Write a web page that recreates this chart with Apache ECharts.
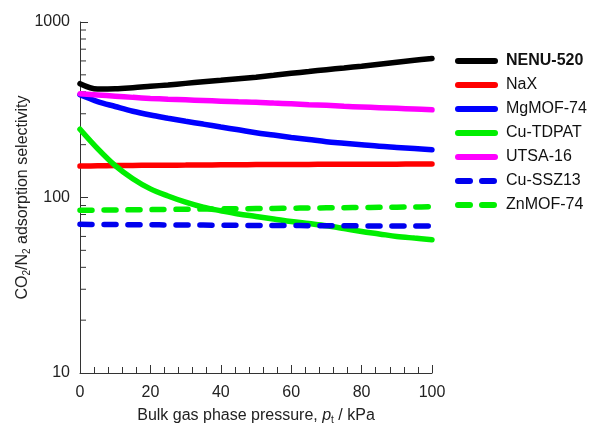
<!DOCTYPE html>
<html>
<head>
<meta charset="utf-8">
<script src="https://cdn.jsdelivr.net/npm/echarts@6/dist/echarts.min.js"></script>
<style>html,body{margin:0;padding:0;background:#fff}#c{width:598px;height:426px}</style>
</head>
<body>
<div id="c"></div>
<script>
const pressure = [0, 5, 10, 15, 20, 25, 30, 35, 40, 45, 50, 55, 60, 65, 70, 75, 80, 85, 90, 95, 100];
const nenu520 = [445, 415, 416, 422, 430, 438, 447, 456, 465, 475, 485, 497, 510, 522, 535, 547, 560, 575, 590, 605, 620];
const nax = [151, 151.5, 152, 152.3, 152.6, 152.8, 153, 153.3, 153.5, 153.7, 154, 154.1, 154.3, 154.4, 154.5, 154.6, 154.7, 154.8, 154.9, 155, 155];
const mgmof74 = [385, 352, 330, 310, 295, 283, 272, 262, 252, 243, 234, 227, 220, 214, 208, 204, 200, 196, 193, 190, 187];
const cutdpat = [245, 190, 152, 128, 112, 102, 94, 88, 84, 80.5, 78, 75.5, 73, 71, 69, 66.5, 64, 62, 60, 58.7, 57.5];
const utsa16 = [390, 384, 378, 372, 367, 363, 360, 357, 354, 351, 349, 345, 342, 338, 335, 331, 328, 325, 322, 319, 316];
const cussz13 = [70.3, 70.2, 70.1, 70, 69.9, 69.8, 69.7, 69.6, 69.5, 69.4, 69.3, 69.25, 69.2, 69.1, 69, 68.95, 68.9, 68.85, 68.8, 68.75, 68.7];
const znmof74 = [84.5, 84.7, 84.9, 85.1, 85.3, 85.5, 85.7, 85.9, 86.1, 86.3, 86.5, 86.7, 86.9, 87.1, 87.3, 87.5, 87.7, 87.9, 88.1, 88.3, 88.5];
const xTicks = [0, 20, 40, 60, 80, 100];
const yMinorTicks = [20, 30, 40, 50, 60, 70, 80, 90, 200, 300, 400, 500, 600, 700, 800, 900];

const seriesDefs = [
  {name: 'NENU-520', data: nenu520, color: '#000000', dashed: false},
  {name: 'NaX', data: nax, color: '#ff0000', dashed: false},
  {name: 'MgMOF-74', data: mgmof74, color: '#0000ff', dashed: false},
  {name: 'Cu-TDPAT', data: cutdpat, color: '#00ee00', dashed: false},
  {name: 'UTSA-16', data: utsa16, color: '#ff00ff', dashed: false},
  {name: 'Cu-SSZ13', data: cussz13, color: '#0000ee', dashed: true},
  {name: 'ZnMOF-74', data: znmof74, color: '#00ee00', dashed: true}
];

const font = '"Liberation Sans", Arial, sans-serif';
const chart = echarts.init(document.getElementById('c'));

const series = seriesDefs.map(s => ({
  name: s.name,
  type: 'line',
  data: pressure.map((p, i) => [p, s.data[i]]),
  smooth: 0.35,
  showSymbol: false,
  symbol: 'none',
  color: s.color,
  lineStyle: {
    color: s.color,
    width: 5.5,
    type: s.dashed ? [12, 12] : 'solid',
    cap: 'round'
  },
  emphasis: {disabled: true},
  animation: false
}));

series.push({
  name: 'yminor',
  type: 'custom',
  silent: true,
  animation: false,
  data: yMinorTicks.map(v => [0, v]),
  encode: {x: 0, y: 1},
  renderItem: function (params, api) {
    const pt = api.coord([0, api.value(1)]);
    return {
      type: 'line',
      shape: {x1: pt[0], y1: pt[1], x2: pt[0] + 6, y2: pt[1]},
      style: {stroke: '#333', lineWidth: 1}
    };
  }
});

chart.setOption({
  animation: false,
  backgroundColor: '#fff',
  textStyle: {fontFamily: font},
  grid: {left: 80, right: 166, top: 22, bottom: 53, containLabel: false, outerBoundsMode: 'none'},
  legend: {
    data: seriesDefs.map(s => s.name),
    orient: 'vertical',
    left: 450,
    top: 48,
    itemWidth: 37,
    itemHeight: 14,
    itemGap: 8,
    selectedMode: false,
    itemStyle: {opacity: 0},
    lineStyle: {width: 6},
    formatter: function (name) {
      return name === 'NENU-520' ? '{b|' + name + '}' : name;
    },
    textStyle: {
      fontFamily: font, fontSize: 16, color: '#111', padding: [0, 0, 0, 6],
      rich: {b: {fontFamily: font, fontSize: 16, fontWeight: 'bold', color: '#111'}}
    }
  },
  xAxis: {
    type: 'value',
    min: 0,
    max: 100,
    interval: 20,
    name: '{n|Bulk gas phase pressure, }{i|p}{s|t}{n| / kPa}',
    nameLocation: 'middle',
    nameGap: 34,
    nameMoveOverlap: false,
    nameTextStyle: {
      rich: {
        n: {fontFamily: font, fontSize: 16, color: '#222'},
        i: {fontFamily: font, fontSize: 16, fontStyle: 'italic', color: '#222'},
        s: {fontFamily: font, fontSize: 10, color: '#222', padding: [8, 0, 0, 0]}
      }
    },
    axisLine: {show: true, lineStyle: {color: '#333', width: 1}},
    axisTick: {show: true, inside: true, length: 8, lineStyle: {color: '#333'}},
    minorTick: {show: true, splitNumber: 5, length: 6, lineStyle: {color: '#333'}},
    axisLabel: {fontFamily: font, fontSize: 16, color: '#222', margin: 12,
      customValues: xTicks},
    splitLine: {show: false}
  },
  yAxis: {
    type: 'log',
    logBase: 10,
    min: 10,
    max: 1000,
    name: '{n|CO}{s|2}{n|/N}{s|2}{n| adsorption selectivity}',
    nameLocation: 'middle',
    nameGap: 48,
    nameMoveOverlap: false,
    nameRotate: 90,
    nameTextStyle: {
      rich: {
        n: {fontFamily: font, fontSize: 16, color: '#222'},
        s: {fontFamily: font, fontSize: 10, color: '#222', padding: [8, 0, 0, 0]}
      }
    },
    axisLine: {show: true, lineStyle: {color: '#333', width: 1}},
    axisTick: {show: true, inside: true, length: 8, lineStyle: {color: '#333'}},
    axisLabel: {fontFamily: font, fontSize: 16, color: '#222', margin: 10,
      formatter: function (v) { return String(Math.round(v)); }},
    splitLine: {show: false}
  },
  series: series
});
</script>
</body>
</html>
